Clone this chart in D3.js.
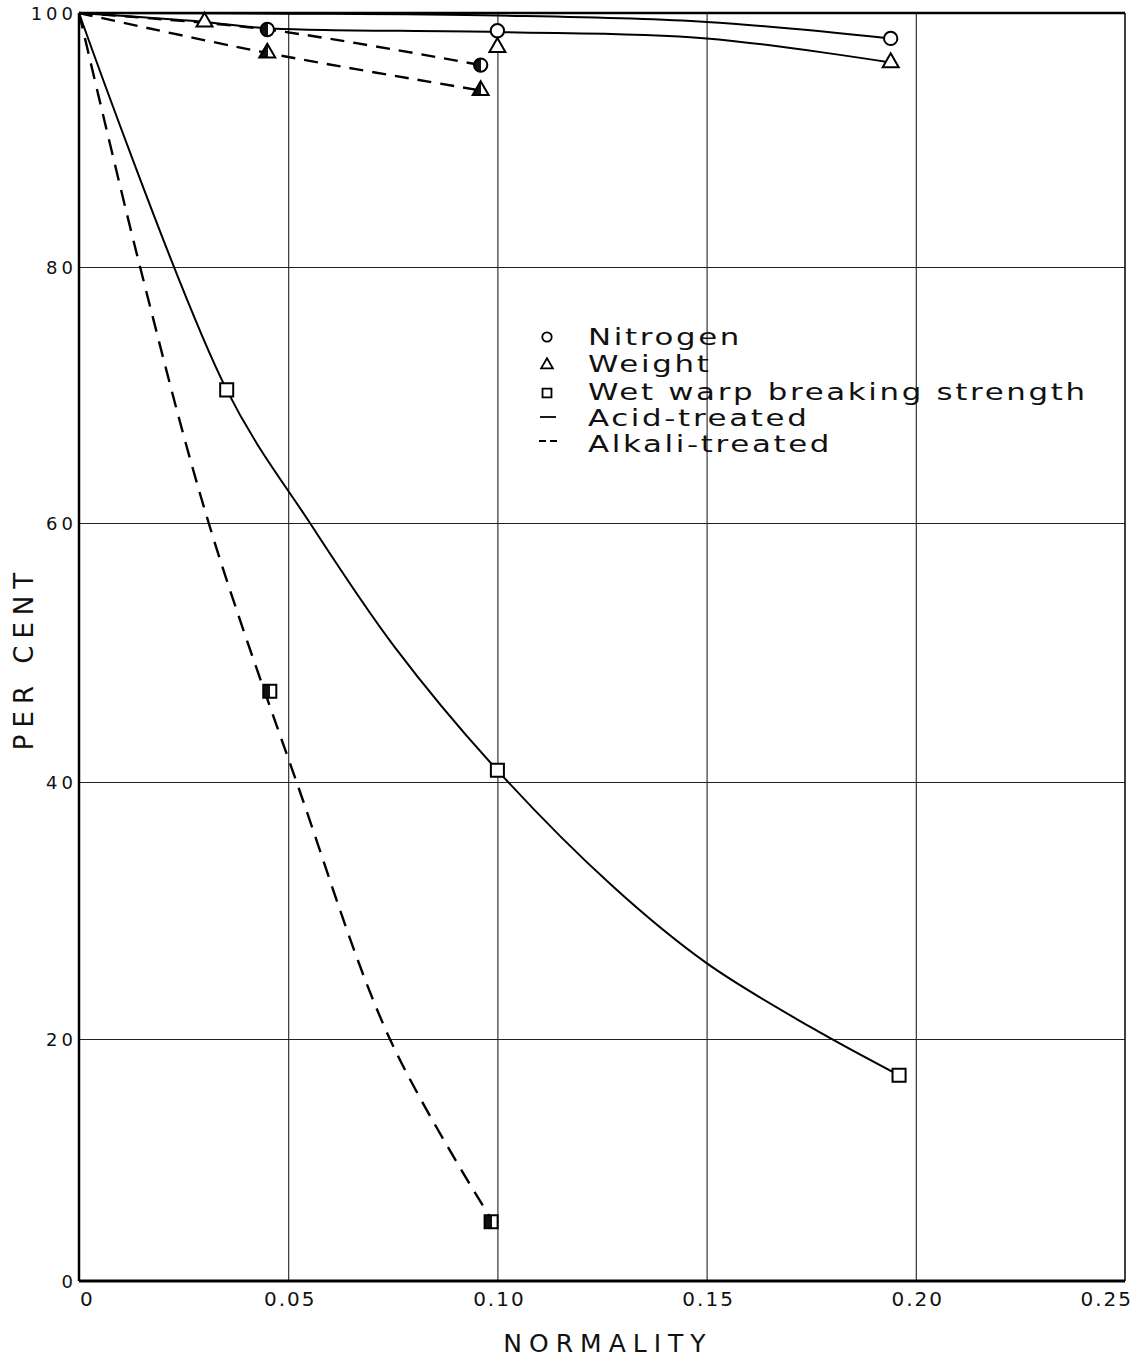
<!DOCTYPE html>
<html>
<head>
<meta charset="utf-8">
<title>Per cent vs normality</title>
<script src="https://cdn.jsdelivr.net/npm/d3@7"></script>
<style>
    body { margin: 0; background: #fff; }
    text { font-family: "DejaVu Sans", sans-serif; fill: #111; }
</style>
</head>
<body>
<script>
    // ticks
    var xTicks = [0, 0.05, 0.10, 0.15, 0.20, 0.25];
    var xTickLabels = ["0", "0.05", "0.10", "0.15", "0.20", "0.25"];
    var yTicks = [0, 20, 40, 60, 80, 100];

    // measured points (normality, per cent)
    var acidNitrogenX = [0.100, 0.194];
    var acidNitrogenY = [98.6, 98.0];
    var acidWeightX = [0.030, 0.100, 0.194];
    var acidWeightY = [99.3, 97.3, 96.1];
    var acidStrengthX = [0.0353, 0.100, 0.196];
    var acidStrengthY = [70.4, 40.9, 17.0];
    var alkaliNitrogenX = [0.045, 0.096];
    var alkaliNitrogenY = [98.7, 95.9];
    var alkaliWeightX = [0.045, 0.096];
    var alkaliWeightY = [96.85, 93.9];
    var alkaliStrengthX = [0.0456, 0.0985];
    var alkaliStrengthY = [47.0, 4.9];

    // drawn curves
    var acidUpperCurveX = [0, 0.05, 0.10, 0.15, 0.194];
    var acidUpperCurveY = [100, 99.95, 99.8, 99.3, 98.0];
    var acidLowerCurveX = [0, 0.030, 0.045, 0.100, 0.150, 0.194];
    var acidLowerCurveY = [100, 99.3, 98.8, 98.5, 98.0, 96.1];
    var acidStrengthCurveX = [0, 0.0353, 0.0552, 0.0755, 0.100, 0.1275, 0.150, 0.175, 0.196];
    var acidStrengthCurveY = [100, 70.4, 60, 50.4, 40.9, 31.9, 25.9, 20.9, 17.0];
    var alkaliNitrogenCurveX = [0, 0.045, 0.096];
    var alkaliNitrogenCurveY = [100, 98.7, 95.9];
    var alkaliWeightCurveX = [0, 0.045, 0.096];
    var alkaliWeightCurveY = [100, 96.85, 93.9];
    var alkaliStrengthCurveX = [0, 0.0146, 0.031, 0.052, 0.0743, 0.098];
    var alkaliStrengthCurveY = [100, 80, 60, 40, 20, 5.4];

    var legendLabels = ["Nitrogen", "Weight", "Wet warp breaking strength", "Acid-treated", "Alkali-treated"];

    var zip = (xs, ys) => xs.map((v, i) => [v, ys[i]]);

    var svg = d3.select("body").append("svg").attr("width", 1137).attr("height", 1360);

    var x = d3.scaleLinear().domain([0, 0.25]).range([79, 1125]);
    // the scanned grid is not quite even, so the scale follows it piece by piece
    var y = d3.scaleLinear().domain(yTicks).range([1281, 1039, 782, 523, 267, 13]);

    var defs = svg.append("defs");
    var grad = defs.append("linearGradient").attr("id", "half").attr("x1", 0).attr("x2", 1).attr("y1", 0).attr("y2", 0);
    grad.append("stop").attr("offset", "0.55").attr("stop-color", "#111");
    grad.append("stop").attr("offset", "0.55").attr("stop-color", "#fff");

    // grid
    svg.append("g").attr("transform", "translate(0,13)")
        .call(d3.axisBottom(x).tickValues(xTicks.slice(1, -1)).tickSize(1268).tickFormat(""))
        .call(g => g.select(".domain").remove())
        .call(g => g.selectAll("line").attr("stroke", "#222").attr("stroke-width", 1.1));
    svg.append("g").attr("transform", "translate(79,0)")
        .call(d3.axisRight(y).tickValues(yTicks.slice(1, -1)).tickSize(1046).tickFormat(""))
        .call(g => g.select(".domain").remove())
        .call(g => g.selectAll("line").attr("stroke", "#222").attr("stroke-width", 1.1));

    // frame
    svg.append("line").attr("x1", x(0)).attr("x2", x(0)).attr("y1", y(100)).attr("y2", y(0)).attr("stroke", "#000").attr("stroke-width", 2.5);
    svg.append("line").attr("x1", x(0)).attr("x2", x(0.25)).attr("y1", y(0)).attr("y2", y(0)).attr("stroke", "#000").attr("stroke-width", 3);
    svg.append("line").attr("x1", x(0)).attr("x2", x(0.25)).attr("y1", y(100)).attr("y2", y(100)).attr("stroke", "#000").attr("stroke-width", 2.5);
    svg.append("line").attr("x1", x(0.25)).attr("x2", x(0.25)).attr("y1", y(100)).attr("y2", y(0)).attr("stroke", "#000").attr("stroke-width", 1.5);

    // tick labels
    svg.append("g").selectAll("text").data(yTicks).enter().append("text")
        .text(d => d)
        .attr("x", 77).attr("y", d => y(d) + 7)
        .attr("text-anchor", "end").attr("font-size", "18px").attr("letter-spacing", "4px");
    svg.append("g").selectAll("text").data(xTicks).enter().append("text")
        .text((d, i) => xTickLabels[i])
        .attr("x", (d, i) => i == 0 ? x(d) + 1 : i == xTicks.length - 1 ? x(d) + 8 : x(d) + 2)
        .attr("y", 1306)
        .attr("text-anchor", (d, i) => i == 0 ? "start" : i == xTicks.length - 1 ? "end" : "middle")
        .attr("font-size", "20px").attr("letter-spacing", "2px");

    // axis titles
    svg.append("text").text("NORMALITY").attr("x", 608).attr("y", 1352)
        .attr("text-anchor", "middle").attr("font-size", "25px").attr("letter-spacing", "7px");
    svg.append("text").text("PER CENT").attr("transform", "translate(33,658) rotate(-90)")
        .attr("text-anchor", "middle").attr("font-size", "26px").attr("letter-spacing", "7px");

    // curves
    var line = d3.line().x(d => x(d[0])).y(d => y(d[1])).curve(d3.curveCatmullRom);
    var curves = [
        { pts: zip(acidUpperCurveX, acidUpperCurveY), dash: null },
        { pts: zip(acidLowerCurveX, acidLowerCurveY), dash: null },
        { pts: zip(acidStrengthCurveX, acidStrengthCurveY), dash: null },
        { pts: zip(alkaliNitrogenCurveX, alkaliNitrogenCurveY), dash: "14,9" },
        { pts: zip(alkaliWeightCurveX, alkaliWeightCurveY), dash: "14,9" },
        { pts: zip(alkaliStrengthCurveX, alkaliStrengthCurveY), dash: "16,10" }
    ];
    svg.append("g").selectAll("path").data(curves).enter().append("path")
        .attr("d", d => line(d.pts))
        .attr("fill", "none").attr("stroke", "#000")
        .attr("stroke-width", d => d.dash ? 2.4 : 2)
        .attr("stroke-dasharray", d => d.dash);

    // markers
    var sym = { circle: d3.symbol().type(d3.symbolCircle).size(140),
                triangle: d3.symbol().type(d3.symbolTriangle).size(110),
                square: d3.symbol().type(d3.symbolSquare).size(170) };
    var markers = [
        { pts: zip(acidNitrogenX, acidNitrogenY), shape: "circle", fill: "#fff" },
        { pts: zip(acidWeightX, acidWeightY), shape: "triangle", fill: "#fff" },
        { pts: zip(acidStrengthX, acidStrengthY), shape: "square", fill: "#fff" },
        { pts: zip(alkaliNitrogenX, alkaliNitrogenY), shape: "circle", fill: "url(#half)" },
        { pts: zip(alkaliWeightX, alkaliWeightY), shape: "triangle", fill: "url(#half)" },
        { pts: zip(alkaliStrengthX, alkaliStrengthY), shape: "square", fill: "url(#half)" }
    ];
    markers.forEach(m => {
        svg.append("g").selectAll("path").data(m.pts).enter().append("path")
            .attr("d", sym[m.shape]())
            .attr("transform", d => "translate(" + x(d[0]) + "," + y(d[1]) + ")")
            .attr("fill", m.fill).attr("stroke", "#000").attr("stroke-width", 2);
    });

    // legend
    var lg = svg.append("g").attr("transform", "translate(547,0)");
    var rowY = [337, 365, 393, 417, 441];
    var rowBase = [345, 372, 400, 426, 452];
    // the lettering in the original is wide, so the text is stretched sideways
    lg.append("g").attr("transform", "translate(41,0) scale(1.34,1)")
        .selectAll("text").data(legendLabels).enter().append("text")
        .text(d => d)
        .attr("x", 0).attr("y", (d, i) => rowBase[i])
        .attr("font-size", "23px").attr("letter-spacing", "2px");
    ["circle", "triangle", "square"].forEach((s, i) => {
        lg.append("path").attr("d", d3.symbol().type([d3.symbolCircle, d3.symbolTriangle, d3.symbolSquare][i]).size([70, 60, 80][i])())
            .attr("transform", "translate(0," + rowY[i] + ")")
            .attr("fill", "none").attr("stroke", "#000").attr("stroke-width", 1.8);
    });
    lg.append("line").attr("x1", -7).attr("x2", 9).attr("y1", rowY[3]).attr("y2", rowY[3]).attr("stroke", "#000").attr("stroke-width", 1.8);
    lg.append("line").attr("x1", -8).attr("x2", 10).attr("y1", rowY[4]).attr("y2", rowY[4])
        .attr("stroke", "#000").attr("stroke-width", 1.8).attr("stroke-dasharray", "7,4");
</script>
</body>
</html>
